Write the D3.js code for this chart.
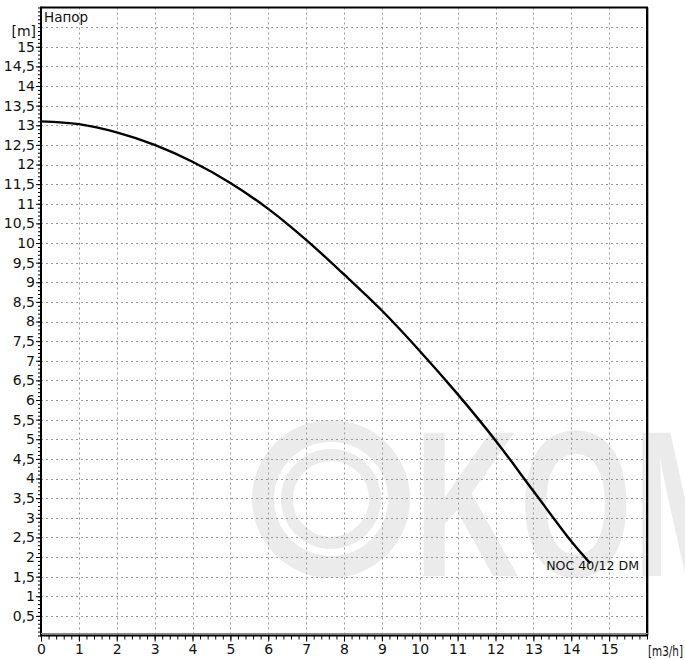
<!DOCTYPE html>
<html>
<head>
<meta charset="utf-8">
<script src="https://cdn.jsdelivr.net/npm/d3@7"></script>
<style>
  body { margin: 0; background: #fff; }
  svg { display: block; }
  text { font-family: "DejaVu Sans", sans-serif; fill: #111; }
</style>
</head>
<body>
<div id="chart"></div>
<script>
// pump curve (Q in m3/h, H in m)
const flowValues = [0, 1, 2, 3, 4, 5, 6, 7, 8, 9, 10, 11, 12, 13, 14, 14.5];
const headValues = [13.1, 13.03, 12.82, 12.5, 12.07, 11.53, 10.87, 10.08, 9.2, 8.28, 7.25, 6.15, 4.97, 3.68, 2.4, 1.84];
const seriesName = "NOC 40/12 DM";

const xTickValues = d3.range(0, 16, 1);
const yTickValues = d3.range(0.5, 15.5, 0.5);
const xGridValues = d3.range(1, 16, 1);
const yGridValues = d3.range(0.5, 16, 0.5);

const xUnit = "[m3/h]";
const yUnit = "[m]";
const yTitle = "Напор";

(function () {
  const w = 685, h = 660;
  const left = 41, right = 647, top = 7.5, bottom = 635.5;

  let x = d3.scaleLinear().domain([0, 16]).range([left, right]);
  let y = d3.scaleLinear().domain([0, 16]).range([bottom, top]);

  let svg = d3.select("#chart").append("svg").attr("width", w).attr("height", h);

  // watermark
  let wm = svg.append("g").attr("class", "watermark");
  wm.append("circle").attr("cx", 331).attr("cy", 499).attr("r", 68)
    .attr("fill", "none").attr("stroke", "#ebebeb").attr("stroke-width", 22);
  wm.append("circle").attr("cx", 331).attr("cy", 499).attr("r", 44)
    .attr("fill", "none").attr("stroke", "#ebebeb").attr("stroke-width", 12);
  wm.append("text")
    .attr("transform", "translate(414,576) scale(0.7,1)")
    .style("font-family", "Liberation Sans, sans-serif")
    .style("font-weight", "bold")
    .style("font-size", "208px")
    .style("fill", "#ebebeb")
    .text("KOM");

  // grid
  svg.append("g").selectAll("line").data(xGridValues).enter().append("line")
    .attr("x1", d => Math.round(x(d)) + 0.5).attr("x2", d => Math.round(x(d)) + 0.5)
    .attr("y1", top).attr("y2", bottom)
    .attr("stroke", "#999").attr("stroke-width", 1).attr("stroke-dasharray", "2,3");
  svg.append("g").selectAll("line").data(yGridValues).enter().append("line")
    .attr("x1", left).attr("x2", right)
    .attr("y1", d => Math.round(y(d)) + 0.5).attr("y2", d => Math.round(y(d)) + 0.5)
    .attr("stroke", "#999").attr("stroke-width", 1).attr("stroke-dasharray", "2,3");

  // frame
  svg.append("line").attr("x1", left).attr("x2", right + 1).attr("y1", top).attr("y2", top)
    .attr("stroke", "#000").attr("stroke-width", 2);
  svg.append("line").attr("x1", right).attr("x2", right).attr("y1", top).attr("y2", bottom)
    .attr("stroke", "#000").attr("stroke-width", 2);
  svg.append("line").attr("x1", right + 1.5).attr("x2", right + 1.5).attr("y1", top).attr("y2", bottom)
    .attr("stroke", "#aaa").attr("stroke-width", 1);

  // y axis with minor ticks every 0.1
  let yAxis = d3.axisLeft(y).tickValues(d3.range(0, 16.01, 0.1)).tickSize(3).tickFormat("");
  svg.append("g").attr("transform", "translate(" + left + ",0)").call(yAxis)
    .call(g => g.select(".domain").remove())
    .selectAll("line").attr("stroke", "#000");
  let yAxisMajor = d3.axisLeft(y).tickValues(yTickValues).tickSize(5).tickPadding(1)
    .tickFormat(d => String(d).replace(".", ","));
  svg.append("g").attr("transform", "translate(" + left + ",0)").call(yAxisMajor)
    .call(g => g.select(".domain").remove())
    .call(g => g.selectAll("line").attr("stroke", "#000"))
    .selectAll("text").style("font-size", "14px").style("font-family", "DejaVu Sans, sans-serif").attr("fill", "#111");

  // x axis with minor ticks every 0.2
  let xAxis = d3.axisBottom(x).tickValues(d3.range(0, 16.01, 0.2)).tickSize(4).tickFormat("");
  svg.append("g").attr("transform", "translate(0," + bottom + ")").call(xAxis)
    .call(g => g.select(".domain").remove())
    .selectAll("line").attr("stroke", "#000");
  let xAxisMajor = d3.axisBottom(x).tickValues(xTickValues).tickSize(6).tickPadding(3).tickFormat(d3.format("d"));
  svg.append("g").attr("transform", "translate(0," + bottom + ")").call(xAxisMajor)
    .call(g => g.select(".domain").remove())
    .call(g => g.selectAll("line").attr("stroke", "#000"))
    .selectAll("text").style("font-size", "14px").style("font-family", "DejaVu Sans, sans-serif").attr("fill", "#111");

  // axis lines
  svg.append("line").attr("x1", left).attr("x2", left).attr("y1", top - 1).attr("y2", bottom + 1)
    .attr("stroke", "#000").attr("stroke-width", 2);
  svg.append("line").attr("x1", left).attr("x2", right + 1).attr("y1", bottom - 2).attr("y2", bottom - 2)
    .attr("stroke", "#888").attr("stroke-width", 1);
  svg.append("line").attr("x1", left).attr("x2", right + 1).attr("y1", bottom).attr("y2", bottom)
    .attr("stroke", "#000").attr("stroke-width", 2);

  // units and title
  svg.append("text").attr("x", 36).attr("y", 36).attr("text-anchor", "end")
    .style("font-size", "14px").text(yUnit);
  svg.append("text").attr("x", 44).attr("y", 22)
    .style("font-size", "13.5px").text(yTitle);
  svg.append("text").attr("x", 683).attr("y", 656).attr("text-anchor", "end")
    .style("font-size", "14px").attr("textLength", 35).attr("lengthAdjust", "spacingAndGlyphs").text(xUnit);

  // curve
  let points = flowValues.map((q, i) => [q, headValues[i]]);
  let line = d3.line().x(d => x(d[0])).y(d => y(d[1])).curve(d3.curveCatmullRom.alpha(0.5));
  svg.append("path").datum(points).attr("d", line)
    .attr("fill", "none").attr("stroke", "#000").attr("stroke-width", 2.4);

  let last = points[points.length - 1];
  svg.append("text").attr("x", x(last[0]) + 49).attr("y", y(last[1]) + 7)
    .attr("text-anchor", "end").style("font-size", "13px").attr("textLength", 93).attr("lengthAdjust", "spacingAndGlyphs").text(seriesName);
})();
</script>
</body>
</html>
